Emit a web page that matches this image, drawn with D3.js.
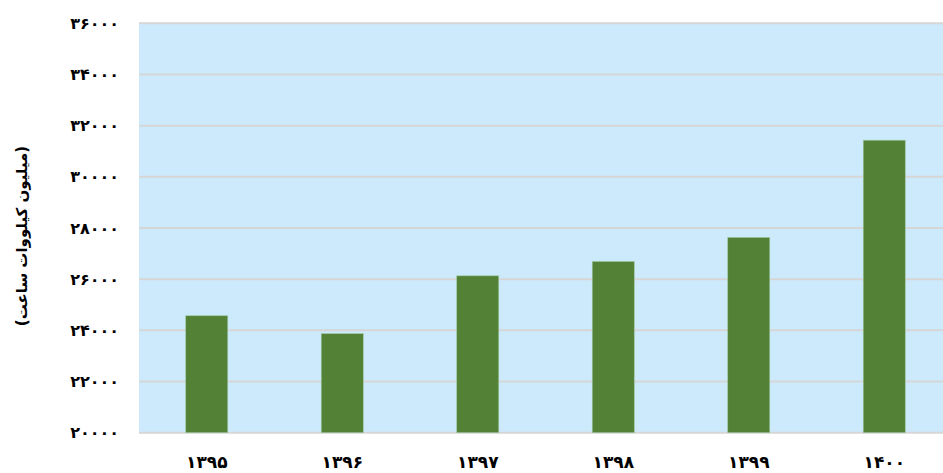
<!DOCTYPE html>
<html>
<head>
<meta charset="utf-8">
<script src="https://cdn.jsdelivr.net/npm/d3@7"></script>
<style>
  body { margin: 0; background: #fff; }
  svg { display: block; font-family: "DejaVu Sans", sans-serif; }
</style>
</head>
<body>
<svg id="chart" width="943" height="473"></svg>
<script>
// years (solar hijri) and production in million kWh
const years = [1395, 1396, 1397, 1398, 1399, 1400]
const values = [24570, 23870, 26130, 26690, 27630, 31430]
const yTicks = [20000, 22000, 24000, 26000, 28000, 30000, 32000, 34000, 36000]
const yTitle = '(میلیون کیلووات ساعت)'

// convert latin digits to persian ones
const fa = n => String(n).replace(/[0-9]/g, d => '۰۱۲۳۴۵۶۷۸۹'[d])

const svg = d3.select('#chart')
const plotLeft = 139, plotRight = 952, plotTop = 23.3, plotBottom = 432.7

const x = d3.scaleBand(years, [plotLeft, plotRight]).paddingInner(0.69).paddingOuter(0.345)
const y = d3.scaleLinear([20000, 36000], [plotBottom, plotTop])

// plot background
svg.append('rect')
   .attr('x', plotLeft).attr('y', plotTop)
   .attr('width', plotRight - plotLeft).attr('height', plotBottom - plotTop)
   .attr('fill', '#cceafc')

// gridlines
svg.append('g')
   .selectAll('line')
   .data(yTicks)
   .join('line')
     .attr('x1', plotLeft).attr('x2', plotRight)
     .attr('y1', d => y(d)).attr('y2', d => y(d))
     .attr('stroke', '#d6d6d6')
     .attr('stroke-width', 2)

// bars
svg.append('g')
   .selectAll('rect')
   .data(years)
   .join('rect')
     .attr('x', d => x(d))
     .attr('width', x.bandwidth())
     .attr('y', (d, i) => y(values[i]))
     .attr('height', (d, i) => y(20000) - y(values[i]))
     .attr('fill', '#538135')
     .attr('stroke', '#9cc59a')
     .attr('stroke-width', 0.6)

// y axis labels
const yAxis = d3.axisLeft(y).tickValues(yTicks).tickSize(0).tickPadding(20).tickFormat(fa)
svg.append('g')
   .attr('transform', `translate(${plotLeft},0)`)
   .call(yAxis)
   .call(g => g.select('.domain').remove())
   .selectAll('text')
     .attr('font-family', '"DejaVu Sans", sans-serif')
     .attr('font-size', 16)
     .attr('font-weight', 'bold')
     .attr('fill', '#000')

// x axis labels
const xAxis = d3.axisBottom(x).tickSize(0).tickPadding(23).tickFormat(fa)
svg.append('g')
   .attr('transform', `translate(0,${plotBottom})`)
   .call(xAxis)
   .call(g => g.select('.domain').remove())
   .selectAll('text')
     .attr('font-family', '"DejaVu Sans", sans-serif')
     .attr('font-size', 17)
     .attr('font-weight', 'bold')
     .attr('fill', '#000')

// y title
svg.append('text')
   .attr('transform', 'translate(22,236) rotate(-90)')
   .attr('text-anchor', 'middle')
   .attr('dominant-baseline', 'middle')
   .attr('font-size', 15)
   .attr('font-weight', 'bold')
   .attr('direction', 'rtl')
   .text(yTitle)
</script>
</body>
</html>
